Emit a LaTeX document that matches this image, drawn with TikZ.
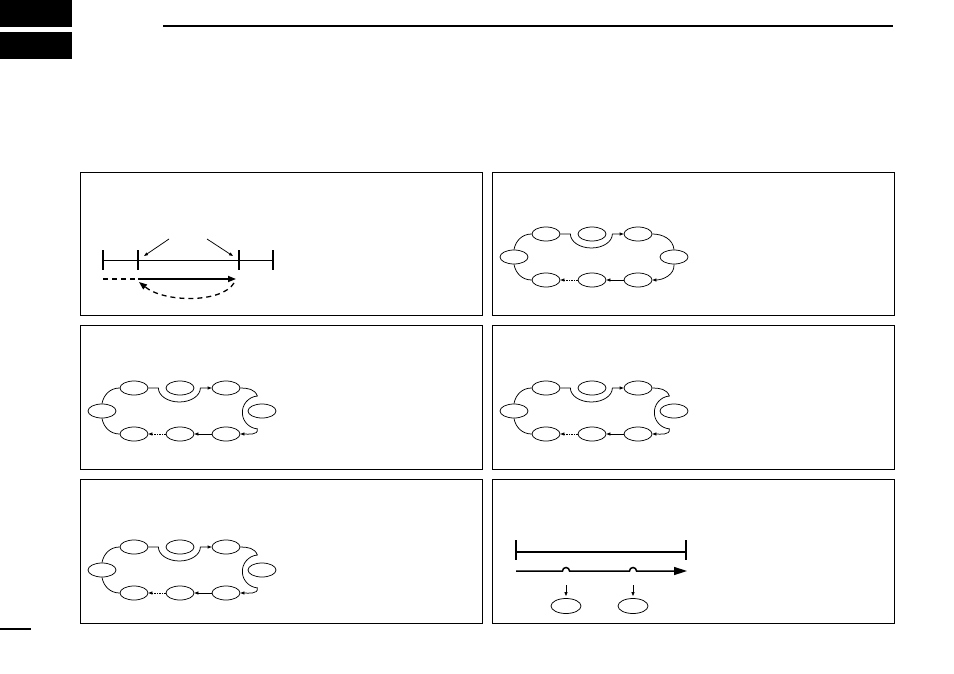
\documentclass[tikz,border=0pt]{standalone}
\usetikzlibrary{arrows.meta,shapes.geometric}
\begin{document}
\begin{tikzpicture}[x=1pt,y=1pt,
  panel/.style={draw,line width=0.9pt},
  tab/.style={fill=black},
  stn/.style={draw,ellipse,line width=0.75pt,minimum width=28pt,
    minimum height=14pt,inner sep=0pt},
  wire/.style={line width=0.75pt},
  headed/.style={-{Triangle[length=4pt,width=3pt]}},
  dots/.style={dash pattern=on 1.5pt off 1pt},
  tickmark/.style={line width=1.5pt},
  bold/.style={line width=1.6pt},
  ring/.pic={
    \node[stn] (-tl) at (0,0) {};
    \node[stn] (-tm) at (46,0) {};
    \node[stn] (-tr) at (92,0) {};
    \node[stn] (-ml) at (-32,-23) {};
    \node[stn] (-mr) at (128,-23) {};
    \node[stn] (-bl) at (0,-46) {};
    \node[stn] (-bm) at (46,-46) {};
    \node[stn] (-br) at (92,-46) {};
    \draw[wire] (-bl.west) to[out=180,in=-80] (-ml.south);
    \draw[wire] (-ml.north) to[out=80,in=180] (-tl.west);
    \draw[wire,headed] (-tl.east) -- ++(10,0)
      arc[start angle=180,end angle=360,x radius=21pt,y radius=14pt] -- (-tr.west);
    \draw[wire,headed] (-br.west) -- (-bm.east);
    \draw[wire,headed,dots] (-bm.west) -- (-bl.east);
  }]
\useasboundingbox (0,0) rectangle (954,-674);
% page furniture
\fill[tab] (0,0) rectangle (72,-27);
\fill[tab] (0,-32) rectangle (72,-59);
\draw[line width=2pt] (163,-26.5) -- (893,-26.5);
\draw[line width=1.2pt] (0,-629) -- (31,-629);
% panels
\draw[panel] (80,-172) rectangle (482,-315);
\draw[panel] (492,-172) rectangle (894,-315);
\draw[panel] (80,-325) rectangle (482,-469);
\draw[panel] (492,-325) rectangle (894,-469);
\draw[panel] (80,-479) rectangle (482,-623);
\draw[panel] (492,-479) rectangle (894,-623);

% panel 1: scan span
\coordinate (a1) at (103,-260);
\coordinate (a2) at (138,-260);
\coordinate (a3) at (239,-260);
\coordinate (a4) at (273,-260);
\draw[wire,line width=0.8pt] (a1) -- (a4);
\foreach \p in {a1,a2,a3,a4}
  \draw[tickmark] (\p) ++(0,10) -- ++(0,-20);
\coordinate (lo) at (169,-239);
\coordinate (hi) at (207,-239);
\draw[wire,headed] (lo) -- (144,-256);
\draw[wire,headed] (hi) -- (233,-256);
\coordinate (s0) at (103,-279);
\coordinate (s1) at (138,-279);
\coordinate (s2) at (236,-279);
\draw[line width=1.3pt,dash pattern=on 5pt off 4pt] (s0) -- (s1);
\draw[bold,-{Triangle[length=8pt,width=6pt]}] (s1) -- (s2);
\coordinate (back) at (139,-282);
\draw[line width=1.3pt,dash pattern=on 5pt off 4pt,-{Triangle[length=8pt,width=6pt]}]
  (234,-283) .. controls (222,-303) and (165,-303) .. (back);

% panel 2
\pic (r2) at (546,-234) {ring};
\draw[wire] (r2-tr.east) to[out=0,in=95] (r2-mr.north);
\draw[wire,headed] (r2-mr.south) to[out=-85,in=0] (r2-br.east);

% panels 3 to 5: skip round the right station
\pic (r3) at (134,-388) {ring};
\draw[wire,headed] (r3-tr.east) to[out=0,in=110] ++(17,-8)
  arc[start angle=95,end angle=265,radius=16.5pt] to[out=-80,in=0] (r3-br.east);
\pic (r4) at (546,-388) {ring};
\draw[wire,headed] (r4-tr.east) to[out=0,in=110] ++(17,-8)
  arc[start angle=95,end angle=265,radius=16.5pt] to[out=-80,in=0] (r4-br.east);
\pic (r5) at (134,-547) {ring};
\draw[wire,headed] (r5-tr.east) to[out=0,in=110] ++(17,-8)
  arc[start angle=95,end angle=265,radius=16.5pt] to[out=-80,in=0] (r5-br.east);

% panel 6: span with skips
\coordinate (b1) at (516,-552);
\coordinate (b2) at (686,-552);
\draw[bold] (b1) -- (b2);
\draw[tickmark] (b1) ++(0,12) -- ++(0,-20);
\draw[tickmark] (b2) ++(0,12) -- ++(0,-20);
\coordinate (c1) at (516,-571);
\coordinate (c2) at (687,-571);
\draw[line width=1.5pt,-{Triangle[length=13pt,width=8pt]}] (c1) -- (562.5,-571)
  arc[start angle=180,end angle=0,radius=3.5pt] -- (629.5,-571)
  arc[start angle=180,end angle=0,radius=3.5pt] -- (c2);
\node[stn,minimum width=30pt,minimum height=15pt] (m1) at (566,-606) {};
\node[stn,minimum width=30pt,minimum height=15pt] (m2) at (633,-606) {};
\coordinate (d1) at (566,-585);
\coordinate (d2) at (633,-585);
\draw[wire,headed,shorten >=2pt] (d1) -- (m1.north);
\draw[wire,headed,shorten >=2pt] (d2) -- (m2.north);
\end{tikzpicture}
\end{document}
